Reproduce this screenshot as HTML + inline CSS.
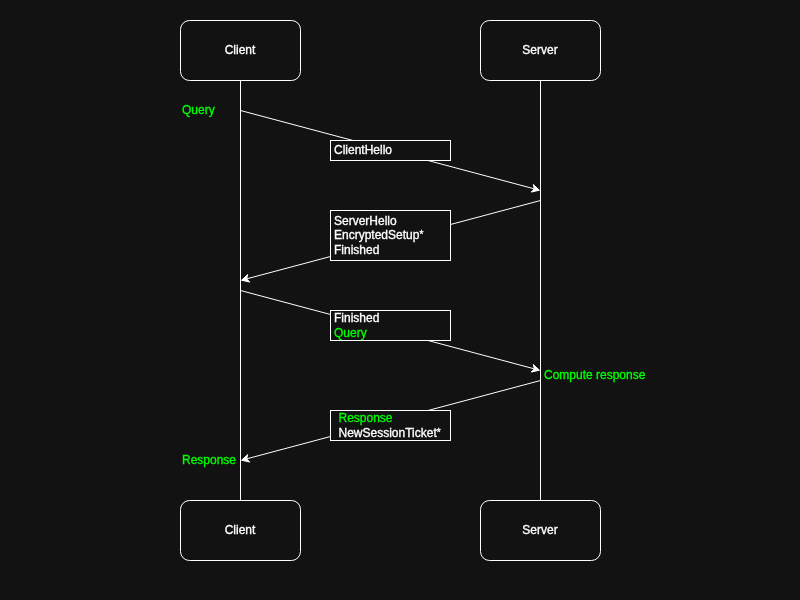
<!DOCTYPE html>
<html><head><meta charset="utf-8"><title>diagram</title>
<style>
html,body{margin:0;padding:0;background:#121212;width:800px;height:600px;overflow:hidden}
svg{display:block;position:absolute;left:0;top:0;will-change:transform}
text{font-family:"Liberation Sans",sans-serif;font-size:12px;fill:#ffffff;stroke:#ffffff;stroke-width:0.32px}
.g{fill:#00ff00;stroke:#00ff00}
</style></head><body>
<svg width="800" height="600" viewBox="0 0 800 600">
<rect x="0" y="0" width="800" height="600" fill="#121212"/>
<g transform="translate(0.5,0.5)">
<path d="M 240 80 L 240 500" fill="none" stroke="#ffffff" stroke-width="1"/>
<path d="M 540 80 L 540 500" fill="none" stroke="#ffffff" stroke-width="1"/>
<path d="M 240 110 L 533.85 188.36" fill="none" stroke="#ffffff" stroke-width="1"/>
<path d="M 538.92 189.71 L 530.74 191.59 L 533.85 188.36 L 532.76 184.01 Z" fill="#ffffff" stroke="#ffffff" stroke-width="1" stroke-miterlimit="10"/>
<path d="M 540 200 L 246.15 278.36" fill="none" stroke="#ffffff" stroke-width="1"/>
<path d="M 241.08 279.71 L 247.24 274.01 L 246.15 278.36 L 249.26 281.59 Z" fill="#ffffff" stroke="#ffffff" stroke-width="1" stroke-miterlimit="10"/>
<path d="M 240 290 L 533.85 368.36" fill="none" stroke="#ffffff" stroke-width="1"/>
<path d="M 538.92 369.71 L 530.74 371.59 L 533.85 368.36 L 532.76 364.01 Z" fill="#ffffff" stroke="#ffffff" stroke-width="1" stroke-miterlimit="10"/>
<path d="M 540 380 L 246.15 458.36" fill="none" stroke="#ffffff" stroke-width="1"/>
<path d="M 241.08 459.71 L 247.24 454.01 L 246.15 458.36 L 249.26 461.59 Z" fill="#ffffff" stroke="#ffffff" stroke-width="1" stroke-miterlimit="10"/>
<rect x="180" y="20" width="120" height="60" rx="9" ry="9" fill="#121212" stroke="#ffffff" stroke-width="1"/>
<text x="239.50" y="53.50" text-anchor="middle">Client</text>
<rect x="180" y="500" width="120" height="60" rx="9" ry="9" fill="#121212" stroke="#ffffff" stroke-width="1"/>
<text x="239.50" y="533.50" text-anchor="middle">Client</text>
<rect x="480" y="20" width="120" height="60" rx="9" ry="9" fill="#121212" stroke="#ffffff" stroke-width="1"/>
<text x="539.50" y="53.50" text-anchor="middle">Server</text>
<rect x="480" y="500" width="120" height="60" rx="9" ry="9" fill="#121212" stroke="#ffffff" stroke-width="1"/>
<text x="539.50" y="533.50" text-anchor="middle">Server</text>
<rect x="330" y="140" width="120" height="20" fill="#121212" stroke="#ffffff" stroke-width="1"/>
<text x="333.50" y="153.50">ClientHello</text>
<rect x="330" y="210" width="120" height="50" fill="#121212" stroke="#ffffff" stroke-width="1"/>
<text x="333.50" y="224.50">ServerHello</text>
<text x="333.50" y="238.50">EncryptedSetup<tspan font-size="10" dy="-1.4">*</tspan></text>
<text x="333.50" y="253.50">Finished</text>
<rect x="330" y="310" width="120" height="30" fill="#121212" stroke="#ffffff" stroke-width="1"/>
<text x="333.50" y="321.50">Finished</text>
<text x="333.50" y="336.50" class="g">Query</text>
<rect x="330" y="410" width="120" height="30" fill="#121212" stroke="#ffffff" stroke-width="1"/>
<text x="338.00" y="421.50" class="g">Response</text>
<text x="338.00" y="436.50">NewSessionTicket<tspan font-size="10" dy="-1.4">*</tspan></text>
<text x="181.50" y="113.50" class="g">Query</text>
<text x="543.50" y="378.50" class="g">Compute response</text>
<text x="181.50" y="463.50" class="g">Response</text>
</g>
</svg>
</body></html>
